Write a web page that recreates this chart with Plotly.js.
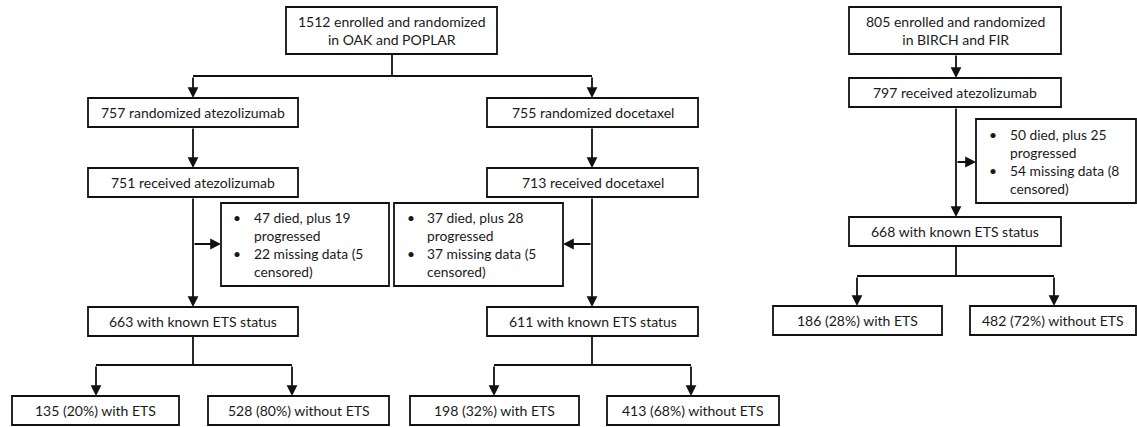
<!DOCTYPE html>
<html><head><meta charset="utf-8">
<script src="https://cdn.plot.ly/plotly-3.0.1.min.js"></script>
<style>html,body{margin:0;padding:0;background:#fff;}#chart{width:1137px;height:427px;}</style>
</head><body><div id="chart"></div>
<script>
// ---- content (text) ----
const boxLabels = [
  "1512 enrolled and randomized<br>in OAK and POPLAR",
  "757 randomized atezolizumab",
  "755 randomized docetaxel",
  "751 received atezolizumab",
  "713 received docetaxel",
  "663 with known ETS status",
  "611 with known ETS status",
  "135 (20%) with ETS",
  "528 (80%) without ETS",
  "198 (32%) with ETS",
  "413 (68%) without ETS",
  "805 enrolled and randomized<br>in BIRCH and FIR",
  "797 received atezolizumab",
  "668 with known ETS status",
  "186 (28%) with ETS",
  "482 (72%) without ETS"
];
const exclusionLines = [
  ["47 died, plus 19", "progressed", "22 missing data (5", "censored)"],
  ["37 died, plus 28", "progressed", "37 missing data (5", "censored)"],
  ["50 died, plus 25", "progressed", "54 missing data (8", "censored)"]
];
const bulletRows = ["•", "", "•", ""];

// ---- layout geometry (pixel space) ----
const boxPos = [
  [286,7,497,54],[88,98,298,127],[487,98,698,127],[88,168,298,197],[487,168,698,197],
  [88,307,298,336],[487,307,698,336],[12,396,179,425],[208,396,389,425],[410,396,579,425],
  [607,396,779,425],[849,7,1061,54],[849,78,1061,107],[849,217,1061,246],[773,306,942,335],
  [970,306,1136,335]
];
const exclPos = [ // box x0,y0,x1,y1, bulletX, textX
  [221,203,389,286,231,252],
  [394,203,563,286,405,425],
  [976,119,1136,203,987,1008]
];
const plainLines = [
  [392,54,392,76],[193,76,592,76],
  [193,336,193,365],[96,365,292,365],
  [592,336,592,365],[494,365,691,365],
  [956,246,956,276],[857,276,1054,276]
];
const arrows = [ // tail x,y -> head x,y
  [193,76,193,98],[592,76,592,98],
  [193,127,193,168],[592,127,592,168],
  [193,197,193,307],[592,197,592,307],
  [193,244,221,244],[592,244,563,244],
  [96,365,96,396],[292,365,292,396],
  [494,365,494,396],[691,365,691,396],
  [956,54,956,78],[956,107,956,217],[956,162,976,162],
  [857,276,857,306],[1054,276,1054,306]
];

const FONT = {family: "Lato, Open Sans, sans-serif", size: 14, color: "#1a1a1a"};
const SIDEFONT = {family: "Lato, Open Sans, sans-serif", size: 13.8, color: "#1a1a1a"};
const LW = 1.8;
const shapes = [];
const annotations = [];

boxPos.forEach((b, i) => {
  shapes.push({type:"rect", xref:"x", yref:"y", x0:b[0], y0:b[1], x1:b[2], y1:b[3],
    line:{color:"#111", width:LW}, fillcolor:"rgba(0,0,0,0)"});
  annotations.push({x:(b[0]+b[2])/2, y:(b[1]+b[3])/2, xref:"x", yref:"y", text:boxLabels[i],
    showarrow:false, font:FONT, xanchor:"center", yanchor:"middle", align:"center"});
});
exclPos.forEach((b, i) => {
  shapes.push({type:"rect", xref:"x", yref:"y", x0:b[0], y0:b[1], x1:b[2], y1:b[3],
    line:{color:"#111", width:LW}, fillcolor:"rgba(0,0,0,0)"});
  const cy = (b[1]+b[3])/2;
  annotations.push({x:b[4], y:cy, xref:"x", yref:"y", text:bulletRows.map(s=>s||" ").join("<br>"),
    showarrow:false, font:SIDEFONT, xanchor:"left", yanchor:"middle", align:"left"});
  annotations.push({x:b[5], y:cy, xref:"x", yref:"y", text:exclusionLines[i].join("<br>"),
    showarrow:false, font:SIDEFONT, xanchor:"left", yanchor:"middle", align:"left"});
});
plainLines.forEach(l => {
  shapes.push({type:"line", xref:"x", yref:"y", x0:l[0], y0:l[1], x1:l[2], y1:l[3],
    line:{color:"#111", width:LW}});
});
arrows.forEach(a => {
  annotations.push({x:a[2], y:a[3], ax:a[0], ay:a[1], xref:"x", yref:"y", axref:"x", ayref:"y",
    text:"", showarrow:true, arrowhead:2, arrowsize:1.2, arrowwidth:LW, arrowcolor:"#111",
    standoff:0, startstandoff:0});
});

const layout = {
  width:1137, height:427,
  margin:{l:0, r:0, t:0, b:0},
  paper_bgcolor:"#fff", plot_bgcolor:"#fff",
  xaxis:{range:[0,1137], visible:false, fixedrange:true},
  yaxis:{range:[427,0], visible:false, fixedrange:true},
  shapes:shapes, annotations:annotations, showlegend:false
};
Plotly.newPlot("chart", [], layout, {displayModeBar:false, staticPlot:true});
</script></body></html>
